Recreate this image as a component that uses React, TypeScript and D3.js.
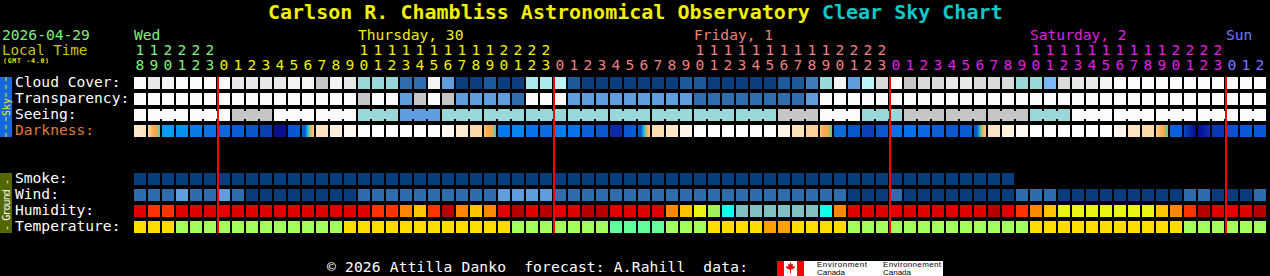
import React from "react";
import * as d3 from "d3";

// ---------- data ----------
const hours = [
  18, 19, 20, 21, 22, 23,
  0, 1, 2, 3, 4, 5, 6, 7, 8, 9, 10, 11, 12, 13, 14, 15, 16, 17, 18, 19, 20, 21, 22, 23,
  0, 1, 2, 3, 4, 5, 6, 7, 8, 9, 10, 11, 12, 13, 14, 15, 16, 17, 18, 19, 20, 21, 22, 23,
  0, 1, 2, 3, 4, 5, 6, 7, 8, 9, 10, 11, 12, 13, 14, 15, 16, 17, 18, 19, 20, 21, 22, 23,
  0, 1, 2,
];
const dayNames = ["Wed", "Thursday, 30", "Friday, 1", "Saturday, 2", "Sun"];
const dayColors = ["#80f080", "#f0f000", "#f08080", "#e020e0", "#7878ff"];

const skyLabels = ["Cloud Cover:", "Transparency:", "Seeing:", "Darkness:"];
const groundLabels = ["Smoke:", "Wind:", "Humidity:", "Temperature:"];

// sky palette codes
const skyCodes = ["W", "L1", "L2", "L3", "G", "T", "C", "C2", "LB", "B3", "B4", "B2", "B1", "D"];
const skyColors = ["#fbfbfb", "#f3f3f3", "#e8e8e8", "#dadada", "#c6c6c6", "#99d8d8", "#aaeaea", "#bbf6f6", "#7ab9f9", "#5e9ede", "#3d7dbd", "#2e6eae", "#1c5a9a", "#0c3d7d"];

const cloudCover = [
  "W", "L2", "L1", "W", "W", "W",
  "W", "L2", "L2", "L2", "L2", "L1", "L1", "G", "L1", "L2", "T", "T", "T", "B2", "B2", "L1", "B3", "D", "D", "B1", "D", "D", "C", "C",
  "C2", "B1", "D", "D", "D", "D", "D", "D", "D", "B1", "B1", "D", "D", "D", "D", "D", "B1", "B1", "B4", "T", "L1", "B3", "C2", "L3",
  "W", "G", "L3", "L3", "L2", "L2", "L3", "L3", "L3", "T", "T", "LB", "L3", "L2", "L2", "L1", "W", "W", "W", "W", "W", "W", "W", "W",
  "W", "W", "W",
];
const transparency = [
  "W", "W", "W", "W", "W", "W",
  "W", "W", "W", "W", "W", "W", "W", "W", "W", "W", "G", "W", "W", "B3", "G", "W", "G", "B3", "B3", "B3", "B3", "B2", "W", "W",
  "W", "B3", "B3", "B3", "B3", "B3", "B3", "B3", "B3", "B3", "B2", "B2", "B2", "B2", "B2", "B2", "B2", "B2", "B3", "W", "W", "W", "W", "W",
  "W", "W", "W", "W", "W", "W", "W", "W", "W", "W", "W", "W", "W", "W", "W", "W", "W", "W", "W", "W", "W", "W", "W", "W",
  "W", "W", "W",
];
const seeing = [
  "W", "W", "W", "W", "W", "W",
  "W", "G", "G", "G", "W", "W", "W", "W", "W", "W", "T", "T", "T", "B3", "B3", "B3", "T", "T", "T", "T", "T", "T", "T", "T",
  "T", "T", "T", "T", "T", "T", "T", "T", "T", "T", "T", "T", "T", "T", "T", "T", "G", "G", "G", "W", "W", "W", "T", "T",
  "T", "G", "G", "G", "G", "G", "G", "G", "G", "G", "T", "T", "T", "W", "W", "W", "W", "W", "W", "W", "W", "W", "W", "W",
  "W", "W", "W",
];
// darkness: colour stops per hour (sunset / sunrise hours blend)
const darkness = [
  ["#fee8cc", "#fde2c0"], ["#fdd8a8", "#fbc070", "#f8a848", "#f8a848", "#20e0f0"], ["#009cf4"], ["#0890ee"], ["#0a7ae4"], ["#0a72e2"],
  ["#0a68da"], ["#0a5ed2"], ["#0a56c8"], ["#0840b0"], ["#061090"], ["#0a56cc"], ["#0a5ad0", "#0a5ad0", "#10d0f0", "#f8b050", "#fbc880"], ["#fde2c0"], ["#feeedc"], ["#fff8f0"],
  ["#ffffff"], ["#ffffff"], ["#ffffff"], ["#ffffff"], ["#ffffff"], ["#ffffff"], ["#fff6ec"], ["#feeacc"], ["#fdd8a8"], ["#fcc47c", "#f8a848", "#f8a848", "#20d8e8"], ["#0078f0"], ["#0a84f0"], ["#0874ec"], ["#0a6ce4"],
  ["#0080f0"], ["#0a72e8"], ["#0a62da"], ["#0a58d0"], ["#0a2ca8"], ["#0a58d0"], ["#0a58d0", "#0a58d0", "#10c8e8", "#f8b050", "#fbc880"], ["#fddcb0"], ["#fee8c8"], ["#fff4e8"],
  ["#ffffff"], ["#ffffff"], ["#ffffff"], ["#ffffff"], ["#ffffff"], ["#ffffff"], ["#fff4e8"], ["#fee0b8"], ["#fcd098"], ["#fcc47c", "#f8a848", "#f8a848", "#40d0a0"], ["#0a6ad8"], ["#0856c8"], ["#0a40b8"], ["#0a58d0"],
  ["#0a70e8"], ["#0a70e8"], ["#0a68e0"], ["#0a60d8"], ["#0a58d0"], ["#0a5ad0"], ["#0a58d0", "#0a58d0", "#30c0c0", "#f8b050", "#fcc880"], ["#fde4c0"], ["#fff0dc"], ["#fff8f0"],
  ["#ffffff"], ["#ffffff"], ["#ffffff"], ["#ffffff"], ["#ffffff"], ["#ffffff"], ["#fff6ec"], ["#fee4c0"], ["#fdd8a8"], ["#fcd098", "#f8b860", "#f8a848", "#40d0a0"], ["#0a60e0"], ["#0a48c0", "#0a2aa0", "#061080"], ["#060e90", "#0a30b0"], ["#0a38b8"],
  ["#0a50d8"], ["#0a58d8"], ["#0a58d8"],
];

const groundCodes = ["SD", "WM", "WL", "WD", "R", "OR", "DR", "O", "Y", "YG", "LG", "CY", "GT", "TY", "TG", "TM", "TO"];
const groundColors = ["#063d7c", "#2e6cac", "#5e9ede", "#0a3c7c", "#e00000", "#ff3300", "#b80000", "#ff8800", "#ffc400", "#e8f414", "#a0f060", "#10ffe8", "#80c0c0", "#ffdd00", "#a2ff5c", "#60ff9c", "#ffa000"];

const smoke = [
  "SD", "SD", "SD", "SD", "SD", "SD",
  "SD", "SD", "SD", "SD", "SD", "SD", "SD", "SD", "SD", "SD", "SD", "SD", "SD", "SD", "SD", "SD", "SD", "SD", "SD", "SD", "SD", "SD", "SD", "SD",
  "SD", "SD", "SD", "SD", "SD", "SD", "SD", "SD", "SD", "SD", "SD", "SD", "SD", "SD", "SD", "SD", "SD", "SD", "SD", "SD", "SD", "SD", "SD", "SD",
  "SD", "SD", "SD", "SD", "SD", "SD", "SD", "SD", "SD", "", "", "", "", "", "", "", "", "", "", "", "", "", "", "",
  "", "", "",
];
const wind = [
  "WM", "WM", "WM", "WL", "WM", "WM",
  "WL", "WM", "WD", "WD", "WD", "WD", "WD", "WD", "WD", "WD", "WM", "WM", "WM", "WM", "WM", "WM", "WM", "WM", "WM", "WM", "WL", "WL", "WL", "WL",
  "WM", "WM", "WM", "WM", "WM", "WM", "WM", "WM", "WM", "WM", "WM", "WM", "WM", "WM", "WM", "WM", "WM", "WM", "WM", "WM", "WM", "WD", "WD", "WD",
  "WM", "WD", "WD", "WD", "WD", "WD", "WD", "WD", "WD", "WM", "WM", "WM", "WD", "WD", "WD", "WD", "WD", "WD", "WD", "WD", "WD", "WM", "WM", "WD",
  "WD", "WD", "WM",
];
const humidity = [
  "R", "OR", "OR", "R", "R", "R",
  "R", "R", "R", "R", "R", "R", "R", "R", "R", "R", "R", "OR", "OR", "O", "Y", "OR", "DR", "O", "Y", "O", "R", "DR", "R", "DR",
  "R", "R", "DR", "DR", "R", "R", "R", "R", "O", "Y", "YG", "LG", "CY", "GT", "GT", "GT", "GT", "GT", "GT", "CY", "O", "R", "R", "R",
  "R", "R", "R", "R", "R", "R", "R", "DR", "R", "OR", "O", "Y", "YG", "YG", "YG", "YG", "YG", "YG", "YG", "Y", "O", "OR", "DR", "R",
  "R", "R", "DR",
];
const temperature = [
  "TY", "TY", "TY", "TG", "TG", "TG",
  "TG", "TG", "TG", "TG", "TG", "TG", "TG", "TG", "TG", "TY", "TY", "TY", "TY", "TY", "TY", "TY", "TY", "TY", "TY", "TY", "TY", "TG", "TG", "TG",
  "TG", "TG", "TG", "TG", "TM", "TM", "TM", "TM", "TG", "TG", "TG", "TY", "TY", "TY", "TY", "TO", "TO", "TY", "TY", "TY", "TY", "TG", "TG", "TG",
  "TG", "TG", "TG", "TG", "TG", "TG", "TG", "TG", "TG", "TG", "TY", "TY", "TY", "TY", "TY", "TY", "TY", "TY", "TY", "TY", "TY", "TG", "TG", "TG",
  "TG", "TG", "TG",
];

// ---------- component ----------
const MONO = "'DejaVu Sans Mono', monospace";

export default function App() {
  const W = 1270;
  const H = 276;
  const cols = d3.range(hours.length);
  const x = d3.scaleBand<number>().domain(cols).range([134, 1266]).paddingInner(2 / 14).paddingOuter(0);
  const bw = x.bandwidth();
  const ySky = d3.scaleBand<string>().domain(skyLabels).range([77, 137]).paddingInner(0.25);
  const yGround = d3.scaleBand<string>().domain(groundLabels).range([173, 233]).paddingInner(0.25);
  const bh = ySky.bandwidth();
  const skyColor = d3.scaleOrdinal<string, string>().domain(skyCodes).range(skyColors);
  const groundColor = d3.scaleOrdinal<string, string>().domain(groundCodes).range(groundColors);

  // day index per column
  let day = 0;
  const dayOf = hours.map((h, i) => {
    if (i > 0 && h === 0) day += 1;
    return day;
  });
  const dayLabelCols = dayNames.map((_, d) => {
    const idx = cols.filter((c) => dayOf[c] === d);
    const ten = idx.find((c) => hours[c] >= 10);
    return ten !== undefined ? ten : idx[0];
  });
  const midnights = cols.filter((c) => c > 0 && hours[c] === 0);

  // seeing groups of 3 (first column alone)
  const seeGroup = (c: number) => (c === 0 ? -1 : Math.floor((c - 1) / 3));

  const simpleRow = (vals: string[], y: number, color: (v: string) => string, key: string) =>
    vals.map((v, c) =>
      v ? <rect key={key + c} x={x(c)} y={y} width={bw} height={bh} fill={color(v)} /> : null
    );

  const seeY = ySky("Seeing:")!;
  const darkY = ySky("Darkness:")!;

  return (
    <svg width={W} height={H} style={{ position: "absolute", left: 0, top: 0, display: "block" }} fontFamily={MONO}>
      <defs>
        {darkness.map((stops, c) =>
          stops.length > 1 ? (
            <linearGradient key={"g" + c} id={"dk" + c} x1="0" x2="1" y1="0" y2="0">
              {stops.map((s, i) => (
                <stop key={i} offset={i / (stops.length - 1)} stopColor={s} />
              ))}
            </linearGradient>
          ) : null
        )}
      </defs>
      <rect x={0} y={0} width={W} height={H} fill="#000" />

      {/* title */}
      <text x={268} y={19} fontSize={20} fontWeight="bold" fill="#f0f000" style={{ whiteSpace: "pre" }}>
        Carlson R. Chambliss Astronomical Observatory <tspan fill="#10c8c8">Clear Sky Chart</tspan>
      </text>

      {/* left header */}
      <text x={2} y={40} fontSize={14.6} fill="#80f080">2026-04-29</text>
      <text x={2} y={54.5} fontSize={14.2} fill="#c8c800">Local Time</text>
      <text x={3} y={63} fontSize={6.5} fontWeight="bold" fill="#e8e800" textLength={46}>(GMT -4.0)</text>

      {/* day names */}
      {dayNames.map((n, d) => (
        <text key={n} x={x(dayLabelCols[d])} y={40} fontSize={14.6} fill={dayColors[d]}>{n}</text>
      ))}
      {/* hour digits */}
      {cols.map((c) => (
        <g key={"h" + c} fill={dayColors[dayOf[c]]} fontSize={14.6} textAnchor="middle">
          {hours[c] >= 10 ? <text x={x(c)! + bw / 2} y={55}>{Math.floor(hours[c] / 10)}</text> : null}
          <text x={x(c)! + bw / 2} y={70}>{hours[c] % 10}</text>
        </g>
      ))}

      {/* side bars */}
      <rect x={0} y={77} width={12} height={60} fill="#1767e0" />
      <line x1={6} x2={6} y1={77} y2={97} stroke="#f0f000" strokeDasharray="4 4" />
      <line x1={6} x2={6} y1={117} y2={137} stroke="#f0f000" strokeDasharray="4 4" />
      <text transform="translate(10,107) rotate(-90)" fontSize={10} fill="#f0f000" textAnchor="middle">Sky</text>
      <rect x={0} y={173} width={12} height={60} fill="#536600" />
      <text transform="translate(9.5,205) rotate(-90)" fontSize={10} fill="#ffffff" textAnchor="middle" textLength={52} style={{ whiteSpace: "pre" }}>- Ground -</text>

      {/* row labels */}
      {skyLabels.map((l) => (
        <text key={l} x={15} y={ySky(l)! + 9.5} fontSize={14.6} fill={l === "Darkness:" ? "#e07838" : "#ffffff"}>{l}</text>
      ))}
      {groundLabels.map((l) => (
        <text key={l} x={15} y={yGround(l)! + 9.5} fontSize={14.6} fill="#ffffff">{l}</text>
      ))}

      {/* sky rows */}
      {simpleRow(cloudCover, ySky("Cloud Cover:")!, skyColor, "cc")}
      {simpleRow(transparency, ySky("Transparency:")!, skyColor, "tr")}
      {simpleRow(seeing, seeY, skyColor, "se")}
      {seeing.map((v, c) =>
        c < seeing.length - 1 && seeGroup(c) === seeGroup(c + 1) ? (
          <rect key={"sc" + c} x={x(c)! + bw} y={seeY + 2} width={14 - bw} height={bh - 4} fill={skyColor(v)} />
        ) : null
      )}
      {darkness.map((stops, c) => (
        <rect key={"dk" + c} x={x(c)} y={darkY} width={bw} height={bh} fill={stops.length > 1 ? `url(#dk${c})` : stops[0]} />
      ))}

      {/* ground rows */}
      {simpleRow(smoke, yGround("Smoke:")!, groundColor, "sm")}
      {simpleRow(wind, yGround("Wind:")!, groundColor, "wi")}
      {simpleRow(humidity, yGround("Humidity:")!, groundColor, "hu")}
      {simpleRow(temperature, yGround("Temperature:")!, groundColor, "te")}

      {/* midnight lines */}
      {midnights.map((c) => (
        <rect key={"m" + c} x={x(c)! - 1} y={77} width={2} height={156} fill="#ff0000" />
      ))}

      {/* footer */}
      <text x={327} y={272} fontSize={14.6} fill="#ffffff" textLength={421} style={{ whiteSpace: "pre" }}>
        © 2026 Attilla Danko  forecast: A.Rahill  data:
      </text>
      <rect x={777} y={261} width={166} height={15} fill="#ffffff" />
      <rect x={777} y={261} width={7} height={15} fill="#ff0000" />
      <rect x={797} y={261} width={7} height={15} fill="#ff0000" />
      <path
        d="M790.5,262 L791.5,264.5 L793,263.8 L792.5,267 L794.5,265.8 L795,267 L793.5,269 L791,269.5 L791,273 L790,273 L790,269.5 L787.5,269 L786,267 L786.5,265.8 L788.5,267 L788,263.8 L789.5,264.5 Z"
        fill="#ff0000"
      />
      <g fontFamily="'Liberation Sans', Arial, sans-serif" fontSize={8} fill="#000">
        <text x={817} y={267} textLength={50}>Environment</text>
        <text x={817} y={275} textLength={28}>Canada</text>
        <text x={883} y={267} textLength={58}>Environnement</text>
        <text x={883} y={275} textLength={28}>Canada</text>
      </g>
    </svg>
  );
}
